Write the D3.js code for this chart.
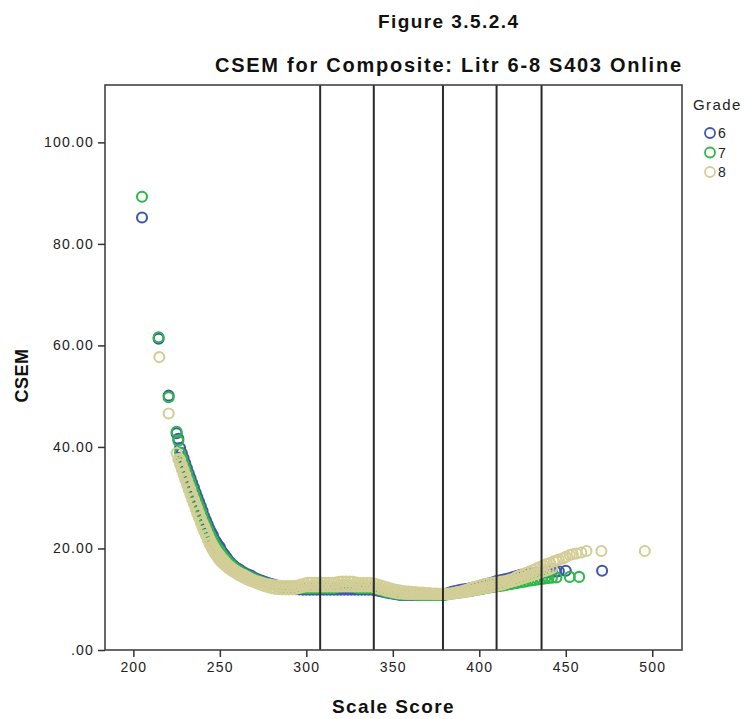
<!DOCTYPE html>
<html>
<head>
<meta charset="utf-8">
<script src="https://cdn.jsdelivr.net/npm/d3@7"></script>
<style>
  html, body { margin: 0; padding: 0; background: #ffffff; }
  svg { display: block; font-family: "Liberation Sans", Arial, sans-serif; }
</style>
</head>
<body>
<div id="chart"></div>
<script>
// ---------- DATA ----------
const titleLines = ["Figure 3.5.2.4", "CSEM for Composite: Litr 6-8 S403 Online"];
const xAxisTitle = "Scale Score";
const yAxisTitle = "CSEM";
const legendTitle = "Grade";
const grades = ["6", "7", "8"];
const gradeColors = ["#3e58ac", "#2eb848", "#d3ce97"];

const xTicks = [200, 250, 300, 350, 400, 450, 500];
const yTicks = [0, 20, 40, 60, 80, 100];
const yTickLabels = [".00", "20.00", "40.00", "60.00", "80.00", "100.00"];
const cutScores = [308, 339, 379, 410, 436];

// [scale score, CSEM]
const grade6 = [
  [205,85.2],[214.6,61.3],[220.4,50.1],[225,42.7],[226,41.6],
  [227,39.8],[228,38.8],[229,37.8],[230,36.8],[231,35.8],[232,34.8],[233,33.9],[234,32.9],[235,32.0],
  [236,31.0],[237,30.1],[238,29.2],[239,28.3],[240,27.4],[241,26.3],[242,25.5],[243,24.7],[244,23.9],
  [245,23.2],[246,22.6],[247,21.7],[248,21.2],[249,20.7],[250,20.3],[251,19.5],[252,19.05],[253,18.6],
  [254,18.15],[255,17.6],[256,17.3],[257,16.9],[258,16.65],[259,16.32],[260,16.1],[261,15.9],[262,15.7],
  [264,15.25],[266,14.9],[268,14.65],[270,14.2],[272,13.95],[274,13.7],[276,13.45],[278,13.2],[280,13.0],
  [282,12.8],[284,12.6],[286,12.45],[288,12.3],[290,12.15],[292,12.05],[294,12.0],[296,11.95],[298,11.9],
  [300,11.9],[302,11.9],[304,11.9],[306,11.9],[308,11.9],[310,11.9],[312,11.9],[314,11.9],[316,11.9],
  [318,11.9],[320,11.9],[322,11.9],[324,11.9],[326,11.9],[328,11.9],[330,11.9],[332,11.9],[334,11.9],
  [336,11.9],[338,11.9],[340,11.8],[342,11.65],[344,11.5],[346,11.35],[348,11.2],[350,11.1],[352,11.0],
  [354,10.85],[356,10.85],[358,10.85],[360,10.85],[362,10.85],[364,10.9],[366,10.95],[368,10.95],
  [370,10.95],[372,10.95],[374,10.95],[376,10.95],[378,10.95],[380,11.0],[382,11.2],[384,11.45],
  [386,11.6],[388,11.75],[390,11.9],[392,12.0],[394,12.1],[396,12.25],[398,12.4],[400,12.6],[402,12.8],
  [404,13.0],[406,13.15],[408,13.35],[410,13.6],[412,13.75],[414,13.9],[416,14.05],[418,14.2],[420,14.4],
  [422,14.6],[424,14.8],[426,14.9],[428,15.0],[430,15.1],[432,15.15],[434,15.2],[436,15.25],[438,15.3],
  [440,15.35],[442,15.4],[444,15.45],[446,15.5],[450,15.6],[471,15.6]
];

const grade7 = [
  [205,89.3],[214.6,61.6],[220.4,49.8],[225,43.0],[226,41.2],
  [227,38.8],[228,37.8],[229,36.8],[230,35.8],[231,34.8],[232,33.8],[233,32.9],[234,31.9],[235,31.0],
  [236,30.0],[237,29.1],[238,28.2],[239,27.3],[240,26.4],[241,25.4],[242,24.6],[243,23.8],[244,23.0],
  [245,22.3],[246,21.7],[247,20.95],[248,20.45],[249,19.95],[250,19.55],[251,18.9],[252,18.45],[253,18.05],
  [254,17.65],[255,17.22],[256,16.92],[257,16.57],[258,16.32],[259,16.0],[260,15.75],[261,15.55],[262,15.35],
  [264,14.95],[266,14.6],[268,14.3],[270,13.95],[272,13.7],[274,13.45],[276,13.2],[278,13.0],[280,12.8],
  [282,12.65],[284,12.5],[286,12.4],[288,12.3],[290,12.25],[292,12.2],[294,12.2],[296,12.2],[298,12.2],
  [300,12.2],[302,12.2],[304,12.2],[306,12.2],[308,12.2],[310,12.2],[312,12.2],[314,12.2],[316,12.2],
  [318,12.35],[320,12.55],[322,12.55],[324,12.55],[326,12.55],[328,12.35],[330,12.2],[332,12.2],
  [334,12.2],[336,12.2],[338,12.2],[340,12.1],[342,11.9],[344,11.7],[346,11.5],[348,11.35],[350,11.2],
  [352,11.1],[354,10.95],[356,10.95],[358,10.95],[360,10.95],[362,10.95],[364,10.85],[366,10.85],
  [368,10.85],[370,10.85],[372,10.85],[374,10.85],[376,10.85],[378,10.85],[380,10.85],[382,11.0],
  [384,11.1],[386,11.2],[388,11.3],[390,11.4],[392,11.5],[394,11.6],[396,11.7],[398,11.85],[400,11.95],
  [402,12.05],[404,12.2],[406,12.3],[408,12.4],[410,12.5],[412,12.6],[414,12.7],[416,12.85],[418,12.95],
  [420,13.1],[422,13.2],[424,13.35],[426,13.45],[428,13.6],[430,13.7],[432,13.8],[434,13.9],[436,14.0],
  [438,14.1],[440,14.2],[442,14.25],[444.6,14.3],[452.3,14.4],[457.7,14.4]
];

const grade8 = [
  [215,57.7],[220.4,46.6],[225,38.8],[226,37.6],
  [227,36.6],[227,37.5],[228,35.6],[228,36.5],[229,34.6],[229,35.5],[230,33.6],[230,34.5],
  [231,32.6],[231,33.5],[232,31.6],[232,32.5],[233,30.7],[233,31.6],[234,29.7],[234,30.6],
  [235,28.8],[235,29.7],[236,27.8],[236,28.7],[237,26.9],[237,27.8],[238,26.0],[238,26.9],
  [239,25.1],[239,26.0],[240,24.2],[240,25.1],[241,23.4],[241,24.3],[242,22.6],[242,23.5],
  [243,21.8],[243,22.7],[244,21.0],[244,21.9],[245,20.3],[245,21.2],[246,19.7],[246,20.6],
  [247,19.1],[247,20.0],[248,18.6],[248,19.5],[249,18.1],[249,19.0],[250,17.7],[250,18.6],
  [251,17.3],[251,18.1],[252,17.0],[252,17.75],[253,16.7],[253,17.4],[254,16.4],[254,17.0],
  [255,16.1],[255,16.65],[256,15.9],[256,16.4],[257,15.6],[257,16.1],[258,15.4],[258,15.85],
  [259,15.2],[259,15.62],[260,15.0],[260,15.4],[261,14.8],[261,15.2],[262,14.6],[262,15.0],
  [263,14.45],[263,14.85],[264,14.3],[264,14.7],[265,14.1],[265,14.5],[266,13.9],[266,14.3],
  [267,13.75],[267,14.15],[268,13.6],[268,14.0],[269,13.8],
  [270,13.3],[271,13.6],[272,13.1],[273,13.4],[274,12.8],[275,13.2],[276,12.55],[277,13.0],
  [278,12.35],[279,12.9],[280,12.15],[281,12.75],[282,12.05],[283,12.7],[284,12.0],[285,12.6],
  [286,11.95],[287,12.6],[288,11.95],[289,12.6],[290,11.95],[291,12.6],[292,11.95],[293,12.6],
  [294,12.05],[295,12.7],[296,12.2],[297,12.9],[298,12.4],[299,13.1],[300,12.5],[301,13.25],
  [302,12.5],[303,13.25],[304,12.5],[305,13.25],[306,12.5],[307,13.25],[308,12.5],[309,13.25],
  [310,12.5],[311,13.25],[312,12.5],[313,13.25],[314,12.5],[315,13.25],[316,12.5],[317,13.3],
  [318,12.5],[319,13.45],[320,12.5],[321,13.5],[322,12.5],[323,13.5],[324,12.5],[325,13.5],
  [326,12.5],[327,13.45],[328,12.5],[329,13.3],[330,12.5],[331,13.2],[332,12.5],[333,13.2],
  [334,12.5],[335,13.2],[336,12.5],[337,13.2],[338,12.5],[339,13.1],[340,12.2],[341,12.9],
  [342,12.05],[343,12.7],[344,11.9],[345,12.5],[346,11.7],[347,12.3],[348,11.55],[349,12.1],
  [350,11.4],[351,11.9],[352,11.25],[353,11.8],[354,11.15],[355,11.65],[356,11.1],[357,11.55],
  [358,11.05],[359,11.5],[360,11.05],[361,11.45],[362,11.05],[363,11.4],[364,11.05],[365,11.3],
  [366,11.05],[367,11.3],[368,11.05],[369,11.2],[370,11.05],[371,11.2],[372,11.05],[373,11.1],
  [374,11.05],[375,11.1],[376,11.05],[377,11.05],[378,11.05],[379,11.05],[380,11.05],[381,11.05],
  [382,11.05],[383,11.1],[384,11.1],[385,11.2],[386,11.2],[387,11.4],[388,11.25],[389,11.5],
  [390,11.35],[391,11.7],[392,11.5],[393,11.9],[394,11.6],[395,12.2],[396,11.75],[397,12.4],
  [398,11.85],[399,12.6],[400,12.0],[401,12.8],[402,12.1],[403,13.0],[404,12.25],[405,13.1],
  [406,12.35],[407,13.2],[408,12.5],[409,13.3],[410,12.6],[411,13.35],[412,12.8],[413,13.5],
  [414,12.95],[415,13.6],[416,13.2],[417,13.8],[418,13.4],[419,14.0],[420,13.6],[421,14.3],
  [422,13.8],[423,14.6],[424,14.0],[425,14.85],[426,14.2],[427,15.15],[428,14.45],[429,15.45],
  [430,14.65],[431,15.75],[432,14.9],[433,16.05],[434,15.1],[435,16.35],[436,15.35],[437,16.65],
  [438,15.55],[439,16.95],[440,15.8],[441,17.2],[442,16.1],[443,17.45],
  [444.6,17.6],[446,17.8],[448.4,18.05],[450,18.35],[452.3,18.7],[454,18.85],[456.2,19.0],
  [459,19.2],[462,19.5],[470.6,19.5],[495.7,19.5]
];

const series = [grade6, grade7, grade8];

// ---------- LAYOUT ----------
const W = 746, H = 719;
const plot = { left: 105, right: 682, top: 85, bottom: 650 };
const FONT = "'Liberation Sans', Arial, sans-serif";

const svg = d3.select("#chart").append("svg")
  .attr("width", W).attr("height", H);

const x = d3.scaleLinear().domain([183.6, 517.2]).range([plot.left, plot.right]);
const y = d3.scaleLinear().domain([0, 111.3]).range([plot.bottom, plot.top]);

// titles
const titleCfg = [
  { y: 28, size: 19, len: 140 },
  { y: 72, size: 20, len: 466 }
];
svg.selectAll("text.title").data(titleLines).join("text")
  .attr("class", "title")
  .attr("x", 448)
  .attr("y", (d, i) => titleCfg[i].y)
  .attr("text-anchor", "middle")
  .attr("font-weight", "bold")
  .attr("font-size", (d, i) => titleCfg[i].size)
  .attr("textLength", (d, i) => titleCfg[i].len)
  .attr("lengthAdjust", "spacing")
  .attr("fill", "#111")
  .text(d => d);

// points
const pts = svg.append("g");
series.forEach((data, gi) => {
  pts.append("g").selectAll("circle").data(data).join("circle")
    .attr("cx", d => x(d[0]))
    .attr("cy", d => y(d[1]))
    .attr("r", 5)
    .attr("fill", "none")
    .attr("stroke", gradeColors[gi])
    .attr("stroke-width", 2.1);
});

// cut score reference lines
svg.append("g").selectAll("line").data(cutScores).join("line")
  .attr("x1", d => x(d)).attr("x2", d => x(d))
  .attr("y1", plot.top).attr("y2", plot.bottom)
  .attr("stroke", "#2a2a2a")
  .attr("stroke-width", 2);

// frame
svg.append("rect")
  .attr("x", plot.left).attr("y", plot.top)
  .attr("width", plot.right - plot.left).attr("height", plot.bottom - plot.top)
  .attr("fill", "none").attr("stroke", "#444").attr("stroke-width", 1.6);

// axes
const xAxis = svg.append("g")
  .attr("transform", `translate(0,${plot.bottom})`)
  .call(d3.axisBottom(x).tickValues(xTicks).tickSize(7).tickPadding(5).tickFormat(d3.format("d")));
xAxis.select(".domain").remove();
xAxis.selectAll("line").attr("stroke", "#333").attr("stroke-width", 1.5);
xAxis.selectAll("text").attr("font-size", 14).attr("fill", "#222")
  .attr("letter-spacing", 1.2).attr("font-family", FONT);

const yAxis = svg.append("g")
  .attr("transform", `translate(${plot.left},0)`)
  .call(d3.axisLeft(y).tickValues(yTicks).tickSize(7).tickPadding(4)
    .tickFormat((d, i) => yTickLabels[i]));
yAxis.select(".domain").remove();
yAxis.selectAll("line").attr("stroke", "#333").attr("stroke-width", 1.5);
yAxis.selectAll("text").attr("font-size", 14).attr("fill", "#222")
  .attr("letter-spacing", 1.2).attr("font-family", FONT);

// axis titles
svg.append("text")
  .attr("x", (plot.left + plot.right) / 2).attr("y", 713)
  .attr("text-anchor", "middle").attr("font-weight", "bold").attr("font-size", 19)
  .attr("letter-spacing", 1.4)
  .attr("fill", "#111").text(xAxisTitle);
svg.append("text")
  .attr("transform", `translate(28,${(plot.top + plot.bottom) / 2 + 8}) rotate(-90)`)
  .attr("text-anchor", "middle").attr("font-weight", "bold").attr("font-size", 18)
  .attr("letter-spacing", 0.5)
  .attr("fill", "#111").text(yAxisTitle);

// legend
const lg = svg.append("g");
lg.append("text").attr("x", 693).attr("y", 110)
  .attr("font-size", 15).attr("letter-spacing", 1.4).attr("fill", "#222").text(legendTitle);
const items = lg.selectAll("g.item").data(grades).join("g")
  .attr("class", "item")
  .attr("transform", (d, i) => `translate(0,${133 + i * 19.5})`);
items.append("circle").attr("cx", 710).attr("cy", 0).attr("r", 5)
  .attr("fill", "none").attr("stroke", (d, i) => gradeColors[i]).attr("stroke-width", 1.8);
items.append("text").attr("x", 718).attr("y", 5)
  .attr("font-size", 14).attr("letter-spacing", 1.2).attr("fill", "#222").text(d => d);
</script>
</body>
</html>
